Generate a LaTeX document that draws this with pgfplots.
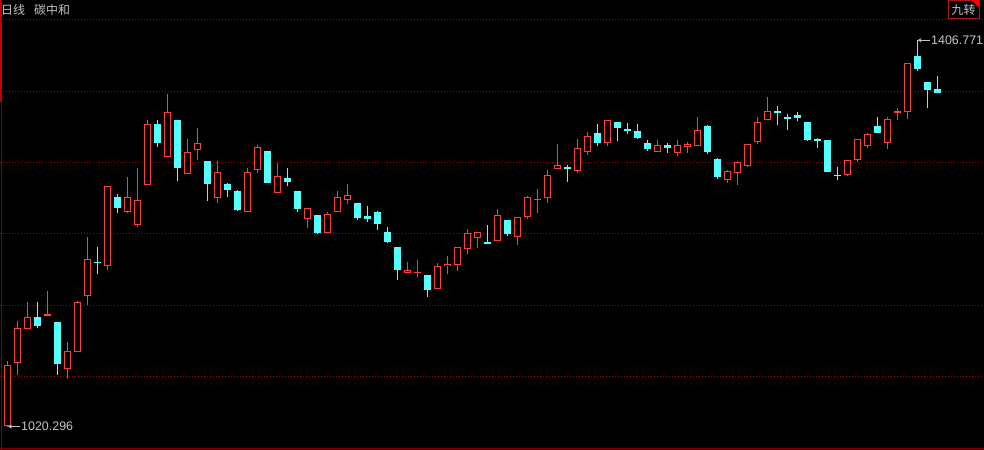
\documentclass[border=0pt]{standalone}
\usepackage{pgfplots}
\usepackage{pgfplotstable}
\pgfplotsset{compat=1.18}
\usetikzlibrary{arrows.meta}
\usepackage{fontspec}
\setmainfont{Liberation Sans}
\newfontfamily\cjk{Noto Sans CJK SC}
\definecolor{upred}{RGB}{255,61,61}
\definecolor{dncyan}{RGB}{84,255,255}
\definecolor{gridred}{RGB}{175,0,0}
\definecolor{edgered}{RGB}{130,0,0}
\definecolor{brightred}{RGB}{190,0,0}
\definecolor{txtgray}{RGB}{195,195,195}
\definecolor{boxred}{RGB}{170,20,20}

% rising days (close >= open): index open high low close
\pgfplotstableread{
i o h l c
0 1021.3 1086 1020.296 1081.7
1 1083.7 1126 1072 1118.7
2 1118.3 1145 1117.7 1129.7
4 1132.2 1156 1132 1132.8
6 1078.3 1105 1068 1095.7
7 1095.3 1146 1095.3 1144.7
8 1151.3 1210 1142.3 1187.7
10 1181.3 1260.7 1177 1260.7
12 1235.3 1270 1234.3 1249.7
13 1222.3 1279 1220 1246.7
14 1262.3 1327 1262.3 1322.7
16 1289.7 1353 1289.7 1334.7
18 1273.3 1308 1273.3 1294.7
19 1297.3 1319 1287 1303.7
21 1249.3 1286 1244.3 1274.7
24 1235.3 1278.7 1235.3 1274.7
25 1276.7 1302 1274.3 1299.7
27 1254.3 1284 1254.3 1270.7
30 1228.3 1238.7 1219 1238.7
32 1214.3 1234.7 1214.3 1232.7
33 1235.3 1256 1235.3 1249.7
34 1247.3 1263 1243.3 1251.7
40 1174.3 1185 1173.7 1177.3
41 1174.2 1187 1170.3 1174.8
43 1158.3 1184 1158.3 1181
44 1180.7 1191 1173 1183
45 1181.7 1199.7 1176.3 1199.7
46 1197.7 1218 1193.3 1213.7
47 1208.7 1214.7 1199.3 1214.7
49 1206.3 1238 1206.3 1231.7
51 1210.3 1229.7 1202 1229.7
52 1230.3 1250.7 1228.3 1249.7
53 1247.4 1258 1234 1248
54 1249.3 1277 1244.3 1271.7
55 1278.3 1303 1278.3 1281.7
57 1276.3 1308 1274.3 1298.7
58 1295.3 1315 1292 1310.7
60 1304.3 1326.7 1301.3 1326.7
65 1295.3 1307 1295.3 1301.7
67 1294.3 1307 1291 1301.7
68 1300.3 1305 1294 1302.7
69 1301.3 1330 1301.3 1316.7
72 1267.3 1277 1264.3 1275.7
73 1274.3 1286 1262 1284.7
74 1281 1302.7 1280 1302.7
75 1305.3 1330 1303 1324.7
76 1327.3 1350 1327.3 1335.7
84 1272.3 1286.7 1271 1286.7
85 1287.3 1307.7 1285.3 1307.7
86 1301.3 1314 1299 1312.7
88 1304.3 1330 1298.3 1327.7
89 1334.7 1338.7 1327.3 1335.7
90 1335.3 1383.7 1328.3 1383.7
}\up

% falling days (close < open)
\pgfplotstableread{
i o h l c
3 1129.7 1145 1119.3 1121.3
5 1125 1125 1072 1083.3
9 1185 1200 1173 1184
11 1249.7 1253 1234.3 1239.3
15 1322.7 1327 1300.3 1304.3
17 1327 1327 1266 1279.3
20 1286 1286 1246 1263.3
22 1263 1264 1250.3 1257.3
23 1256 1257 1236.3 1237.3
26 1296 1296 1264.3 1264.3
28 1269 1279 1261 1265.3
29 1256 1256 1235 1238.3
31 1232 1232 1213.3 1214
35 1244 1244 1227.3 1229.3
36 1231 1241 1225 1228.3
37 1235 1236 1217 1223.3
38 1215 1220 1204.3 1205
39 1200 1200 1167 1177
42 1172 1172 1150.3 1157
48 1205 1222 1203.3 1203.3
50 1227 1227 1211.3 1213
56 1280 1282 1265.3 1278.3
59 1314 1323 1301 1304
61 1325 1325 1306 1319.3
62 1318 1324 1313.3 1316
63 1316 1323 1308 1309.3
64 1304 1307 1296 1298.3
66 1302 1304 1294 1299
70 1321 1322 1293 1295
71 1288 1289 1268 1270
77 1335.5 1341 1322 1335
78 1329.3 1333 1317 1328.7
79 1332 1335 1326 1329
80 1325 1325 1306.3 1307
81 1307.6 1308.7 1299 1307
82 1307 1307 1275 1275
83 1272 1280 1267 1271.4
87 1321 1330 1314.3 1314.3
91 1391 1406.771 1376.3 1378
92 1365 1365 1339.3 1357
93 1358 1371 1354.3 1354.3
}\down

\begin{document}
\begin{tikzpicture}
\useasboundingbox (0,0) rectangle (984bp,450bp);
\begin{axis}[
  at={(0,0)}, anchor=south west,
  scale only axis, width=984bp, height=450bp,
  xmin=-0.75, xmax=97.65, ymin=997, ymax=1447,
  axis background/.style={fill=black},
  axis line style={draw=none},
  tick style={draw=none},
  xtick=\empty,
  ytick={1427,1355.7,1284.5,1213.2,1141.9,1070.6},
  yticklabels={},
  ymajorgrids,
  major grid style={gridred, line width=1bp, dash pattern=on 1bp off 2bp},
  clip=false,
  candle/.style={draw=none, mark=none, forget plot,
    error bars/.cd, y dir=both, y explicit, error mark=none},
]
% wicks, falling
\addplot[candle, error bar style={draw=dncyan, line width=1bp, solid}]
  table[x=i, y expr={(\thisrow{h}+\thisrow{l})/2}, y error expr={(\thisrow{h}-\thisrow{l})/2}] {\down};
% bodies, falling
\addplot[candle, error bar style={draw=dncyan, line width=7bp, solid}]
  table[x=i, y expr={(\thisrow{o}+\thisrow{c})/2}, y error expr={max(abs(\thisrow{o}-\thisrow{c})/2,0.6)}] {\down};
% wicks, rising
\addplot[candle, error bar style={draw=upred, line width=1bp, solid}]
  table[x=i, y expr={(\thisrow{h}+\thisrow{l})/2}, y error expr={(\thisrow{h}-\thisrow{l})/2}] {\up};
% bodies, rising (outline)
\addplot[candle, error bar style={draw=upred, line width=7bp, solid}]
  table[x=i, y expr={(\thisrow{o}+\thisrow{c})/2}, y error expr={max(abs(\thisrow{c}-\thisrow{o})/2,0.6)}] {\up};
% bodies, rising (hollow inside)
\addplot[candle, error bar style={draw=black, line width=5bp, solid}]
  table[x=i, y expr={(\thisrow{o}+\thisrow{c})/2}, y error expr={max((\thisrow{c}-\thisrow{o})/2-1,0)}] {\up};

% frame lines
\draw[brightred, line width=2bp] (axis cs:-0.65,1447) -- (axis cs:-0.65,1345);
\draw[edgered, line width=1bp] (axis cs:-0.6,1345) -- (axis cs:-0.6,997);
\draw[edgered, line width=1bp] (axis cs:-0.75,998.5) -- (axis cs:97.65,998.5);

% header
\node[anchor=west, inner sep=0pt, text=txtgray, font=\cjk\fontsize{12}{12}\selectfont] at (axis cs:-0.65,1437) {日线};
\node[anchor=west, inner sep=0pt, text=txtgray, font=\cjk\fontsize{12}{12}\selectfont] at (axis cs:2.65,1437) {碳中和};
% 九转 box
\draw[boxred, line width=1bp] (axis cs:94.05,1446.5) rectangle (axis cs:97.15,1428);
\fill[red] (axis cs:96.4,1447) -- (axis cs:97.15,1447) -- (axis cs:97.15,1439) -- cycle;
\node[inner sep=0pt, text=txtgray, font=\cjk\fontsize{12}{12}\selectfont] at (axis cs:95.6,1437) {九转};

% extreme value labels
\draw[txtgray, line width=1bp, -{Stealth[length=4bp,width=4bp]}] (axis cs:1.25,1020.296) -- (axis cs:0.05,1020.296);
\node[anchor=west, inner sep=0pt, text=txtgray, font=\fontsize{12.5}{12.5}\selectfont] at (axis cs:1.35,1020.296) {1020.296};
\draw[txtgray, line width=1bp, -{Stealth[length=4bp,width=4bp]}] (axis cs:92.25,1406.771) -- (axis cs:91.0,1406.771);
\node[anchor=west, inner sep=0pt, text=txtgray, font=\fontsize{12.5}{12.5}\selectfont] at (axis cs:92.35,1406.771) {1406.771};
\end{axis}
\end{tikzpicture}
\end{document}
